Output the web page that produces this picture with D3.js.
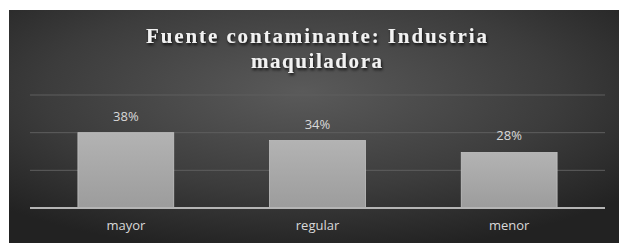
<!DOCTYPE html>
<html>
<head>
<meta charset="utf-8">
<script src="https://cdn.jsdelivr.net/npm/d3@7"></script>
<style>
  body { margin: 0; background: white; }
</style>
</head>
<body>
<div id="container"></div>
<script>
let w = 619;
let h = 243;

let categories = ["mayor", "regular", "menor"];
let values = [0.38, 0.34, 0.28];
let valueLabels = ["38%", "34%", "28%"];
let gridTicks = [0.19, 0.38, 0.57];
let titleLines = ["Fuente contaminante: Industria", "maquiladora"];
let titleWidths = [341, 131];

let viz = d3.select("#container")
  .append("svg")
    .attr("width", w)
    .attr("height", h)
    .style("display", "block")
;

let defs = viz.append("defs");

let bg = defs.append("radialGradient")
  .attr("id", "bgGrad")
  .attr("cx", "48%").attr("cy", "35%").attr("r", "70%");
bg.append("stop").attr("offset", "0%").attr("stop-color", "#5a5a5a");
bg.append("stop").attr("offset", "60%").attr("stop-color", "#3c3c3c");
bg.append("stop").attr("offset", "100%").attr("stop-color", "#222");

let barGrad = defs.append("linearGradient")
  .attr("id", "barGrad")
  .attr("x1", 0).attr("y1", 0).attr("x2", 0).attr("y2", 1);
barGrad.append("stop").attr("offset", "0%").attr("stop-color", "#b3b3b3");
barGrad.append("stop").attr("offset", "100%").attr("stop-color", "#9c9c9c");

let shadow = defs.append("filter").attr("id", "shadow")
  .attr("x", "-10%").attr("y", "-30%").attr("width", "120%").attr("height", "160%");
shadow.append("feDropShadow")
  .attr("dx", 1).attr("dy", 2).attr("stdDeviation", 1.5)
  .attr("flood-color", "#000").attr("flood-opacity", 0.8);

// background panel
viz.append("rect")
  .attr("x", 9)
  .attr("y", 10)
  .attr("width", w - 9)
  .attr("height", h - 10)
  .attr("fill", "url(#bgGrad)")
;

let x = d3.scaleBand()
  .domain(categories)
  .range([30, 605])
  .paddingInner(0.5)
  .paddingOuter(0.25)
;

let y = d3.scaleLinear()
  .domain([0, 0.57])
  .range([208, 95])
;

// gridlines
viz.append("g")
  .selectAll("line")
  .data(gridTicks)
  .enter()
  .append("line")
    .attr("x1", 30)
    .attr("x2", 605)
    .attr("y1", d => y(d))
    .attr("y2", d => y(d))
    .style("stroke", "#5e5e5e")
    .style("stroke-width", 1)
;

// bars
viz.append("g")
  .selectAll("rect")
  .data(values)
  .enter()
  .append("rect")
    .attr("x", (d, i) => x(categories[i]))
    .attr("y", d => y(d))
    .attr("width", x.bandwidth())
    .attr("height", d => y(0) - y(d))
    .attr("fill", "url(#barGrad)")
    .style("stroke", "#c4c4c4")
    .style("stroke-width", 0.8)
;

// baseline
viz.append("line")
  .attr("x1", 30)
  .attr("x2", 605)
  .attr("y1", y(0))
  .attr("y2", y(0))
  .style("stroke", "#b5b5b5")
  .style("stroke-width", 2)
;

// value labels
viz.append("g")
  .selectAll("text")
  .data(values)
  .enter()
  .append("text")
    .text((d, i) => valueLabels[i])
    .attr("x", (d, i) => x(categories[i]) + x.bandwidth() / 2)
    .attr("y", d => y(d) - 12)
    .attr("text-anchor", "middle")
    .attr("font-family", "'Open Sans', 'Liberation Sans', sans-serif")
    .attr("font-size", 13)
    .attr("fill", "#d9d9d9")
;

// category labels
let xAxis = viz.append("g")
  .attr("transform", "translate(0," + y(0) + ")")
  .call(d3.axisBottom(x).tickSize(0).tickPadding(13))
;
xAxis.select(".domain").remove();
xAxis.selectAll("text")
  .attr("font-family", "'Open Sans', 'Liberation Sans', sans-serif")
  .attr("font-size", 13)
  .attr("fill", "#d9d9d9")
;

// title
viz.append("g")
  .selectAll("text")
  .data(titleLines)
  .enter()
  .append("text")
    .text(d => d)
    .attr("x", 316.5)
    .attr("y", (d, i) => 42.5 + i * 25)
    .attr("text-anchor", "middle")
    .attr("textLength", (d, i) => titleWidths[i])
    .attr("lengthAdjust", "spacing")
    .attr("font-family", "'Liberation Serif', 'DejaVu Serif', serif")
    .attr("font-weight", "bold")
    .attr("font-size", 21)
    .attr("fill", "#f2f2f2")
    .attr("filter", "url(#shadow)")
;
</script>
</body>
</html>
